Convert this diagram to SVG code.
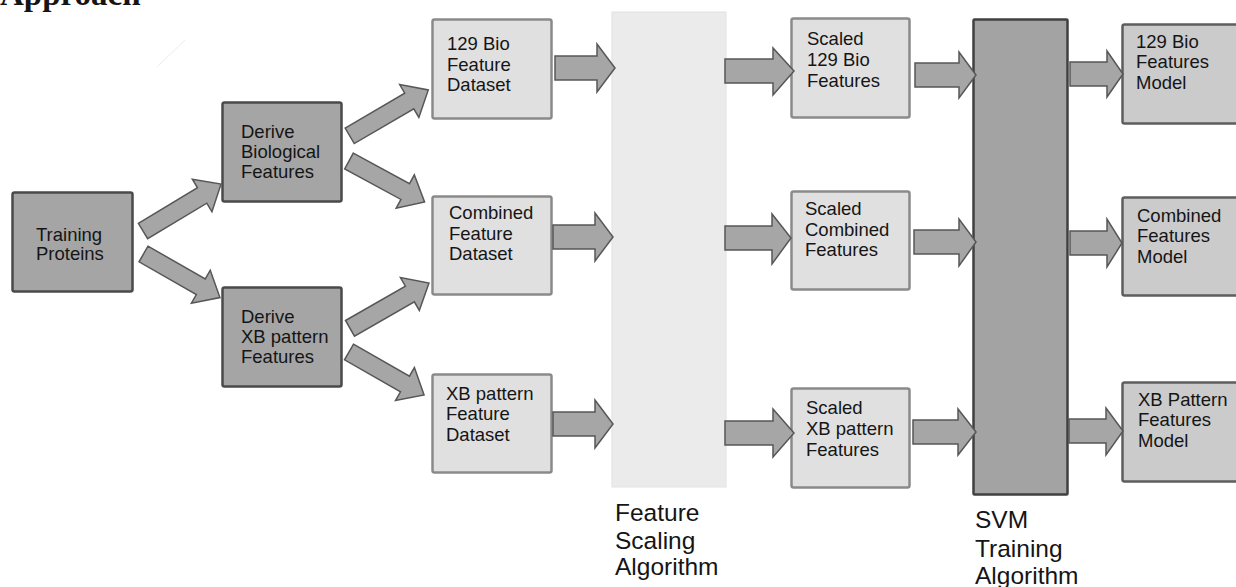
<svg xmlns="http://www.w3.org/2000/svg" width="1236" height="587" viewBox="0 0 1236 587">
<style>
  text { font-family: "Liberation Sans", Arial, sans-serif; fill: #151515; }
  .t { font-size: 18.5px; }
  .big { font-size: 24.5px; }
  .title { font-family: "Liberation Serif", "Times New Roman", serif; font-weight: bold; font-size: 33px; }
  .dark { fill: #a5a5a5; stroke: #4a4a4a; stroke-width: 2.5; }
  .light { fill: #e0e0e0; stroke: #8a8a8a; stroke-width: 2.5; }
  .model { fill: #cbcbcb; stroke: #5e5e5e; stroke-width: 2.5; }
  .scale { fill: #ebebeb; stroke: #e2e2e2; stroke-width: 1; }
  .svm { fill: #a3a3a3; stroke: #404040; stroke-width: 2.5; }
  .arrow { fill: #a6a6a6; stroke: #575757; stroke-width: 1.5; stroke-linejoin: miter; }
</style>
<rect width="1236" height="587" fill="#ffffff"/>
<text class="title" x="0" y="5">Approach</text>
<line x1="157" y1="67" x2="185" y2="40" stroke="#ececec" stroke-width="1"/>

<g id="training-proteins">
  <rect class="dark" x="12.5" y="192.5" width="120" height="99" rx="2"/>
  <text class="t" x="36" y="241">Training</text>
  <text class="t" x="36" y="260">Proteins</text>
</g>
<g id="derive-bio">
  <rect class="dark" x="222.5" y="102.5" width="119" height="99" rx="2"/>
  <text class="t" x="241" y="138">Derive</text>
  <text class="t" x="241" y="158">Biological</text>
  <text class="t" x="241" y="178">Features</text>
</g>
<g id="derive-xb">
  <rect class="dark" x="222.5" y="287.5" width="119" height="99" rx="2"/>
  <text class="t" x="241" y="323">Derive</text>
  <text class="t" x="241" y="343">XB pattern</text>
  <text class="t" x="241" y="363">Features</text>
</g>
<g id="bio-dataset">
  <rect class="light" x="432.5" y="19.5" width="119" height="99" rx="2"/>
  <text class="t" x="447" y="50">129 Bio</text>
  <text class="t" x="447" y="71">Feature</text>
  <text class="t" x="447" y="91">Dataset</text>
</g>
<g id="combined-dataset">
  <rect class="light" x="432.5" y="196.5" width="119" height="98" rx="2"/>
  <text class="t" x="449" y="219">Combined</text>
  <text class="t" x="449" y="240">Feature</text>
  <text class="t" x="449" y="260">Dataset</text>
</g>
<g id="xb-dataset">
  <rect class="light" x="432.5" y="374.5" width="119" height="98" rx="2"/>
  <text class="t" x="446" y="400">XB pattern</text>
  <text class="t" x="446" y="420">Feature</text>
  <text class="t" x="446" y="441">Dataset</text>
</g>
<g id="feature-scaling">
  <rect class="scale" x="612" y="12" width="114" height="475"/>
  <text class="big" x="615" y="521">Feature</text>
  <text class="big" x="615" y="549">Scaling</text>
  <text class="big" x="615" y="575">Algorithm</text>
</g>
<g id="scaled-bio">
  <rect class="light" x="791.5" y="18.5" width="118" height="99" rx="2"/>
  <text class="t" x="807" y="45">Scaled</text>
  <text class="t" x="807" y="66">129 Bio</text>
  <text class="t" x="807" y="87">Features</text>
</g>
<g id="scaled-combined">
  <rect class="light" x="791.5" y="191.5" width="118" height="98" rx="2"/>
  <text class="t" x="805" y="215">Scaled</text>
  <text class="t" x="805" y="236">Combined</text>
  <text class="t" x="805" y="256">Features</text>
</g>
<g id="scaled-xb">
  <rect class="light" x="791.5" y="388.5" width="118" height="99" rx="2"/>
  <text class="t" x="806" y="414">Scaled</text>
  <text class="t" x="806" y="435">XB pattern</text>
  <text class="t" x="806" y="456">Features</text>
</g>
<g id="svm-training">
  <rect class="svm" x="973.5" y="19.5" width="94" height="475" rx="1"/>
  <text class="big" x="975" y="528">SVM</text>
  <text class="big" x="975" y="557">Training</text>
  <text class="big" x="975" y="584">Algorithm</text>
</g>
<g id="bio-model">
  <rect class="model" x="1122.5" y="24.5" width="130" height="99" rx="2"/>
  <text class="t" x="1136" y="48">129 Bio</text>
  <text class="t" x="1136" y="68">Features</text>
  <text class="t" x="1136" y="89">Model</text>
</g>
<g id="combined-model">
  <rect class="model" x="1122.5" y="197.5" width="130" height="98" rx="2"/>
  <text class="t" x="1137" y="222">Combined</text>
  <text class="t" x="1137" y="242">Features</text>
  <text class="t" x="1137" y="263">Model</text>
</g>
<g id="xb-model">
  <rect class="model" x="1122.5" y="382.5" width="130" height="99" rx="2"/>
  <text class="t" x="1138" y="406">XB Pattern</text>
  <text class="t" x="1138" y="426">Features</text>
  <text class="t" x="1138" y="447">Model</text>
</g>

<g id="connectors">
  <polygon class="arrow" transform="translate(143,231) rotate(-31)" points="0,-9 69,-9 69,-19 91,0 69,19 69,9 0,9"/>
  <polygon class="arrow" transform="translate(143.5,254) rotate(29.7)" points="0,-9 66,-9 66,-19 88,0 66,19 66,9 0,9"/>
  <polygon class="arrow" transform="translate(349.7,135.8) rotate(-30.3)" points="0,-9 69,-9 69,-19 91,0 69,19 69,9 0,9"/>
  <polygon class="arrow" transform="translate(349,161) rotate(28.5)" points="0,-9 64,-9 64,-19 86,0 64,19 64,9 0,9"/>
  <polygon class="arrow" transform="translate(350,328.3) rotate(-29.8)" points="0,-9 69,-9 69,-19 91,0 69,19 69,9 0,9"/>
  <polygon class="arrow" transform="translate(349,352) rotate(29.8)" points="0,-9 64.5,-9 64.5,-19 86.5,0 64.5,19 64.5,9 0,9"/>
  <polygon class="arrow" points="555,56 597,56 597,44 615,68 597,92 597,80 555,80"/>
  <polygon class="arrow" points="553,225 595,225 595,213 613,237 595,261 595,249 553,249"/>
  <polygon class="arrow" points="553,412 595,412 595,400 613,424 595,448 595,436 553,436"/>
  <polygon class="arrow" points="725,59 773,59 773,48 794,71 773,95 773,83 725,83"/>
  <polygon class="arrow" points="725,226 772,226 772,214 791,238 772,264 772,250 725,250"/>
  <polygon class="arrow" points="725,421 773,421 773,409 794,433 773,457 773,445 725,445"/>
  <polygon class="arrow" points="915,63 959,63 959,52 976,75 959,98 959,87 915,87"/>
  <polygon class="arrow" points="914,230 959,230 959,219 976,242 959,266 959,254 914,254"/>
  <polygon class="arrow" points="913,420 958,420 958,409 976,432 958,455 958,444 913,444"/>
  <polygon class="arrow" points="1070,62 1107,62 1107,51 1123,74 1107,97 1107,86 1070,86"/>
  <polygon class="arrow" points="1070,231 1107,231 1107,219 1122,243 1107,267 1107,255 1070,255"/>
  <polygon class="arrow" points="1069,419 1106,419 1106,408 1123,431 1106,455 1106,443 1069,443"/>
</g>
</svg>
